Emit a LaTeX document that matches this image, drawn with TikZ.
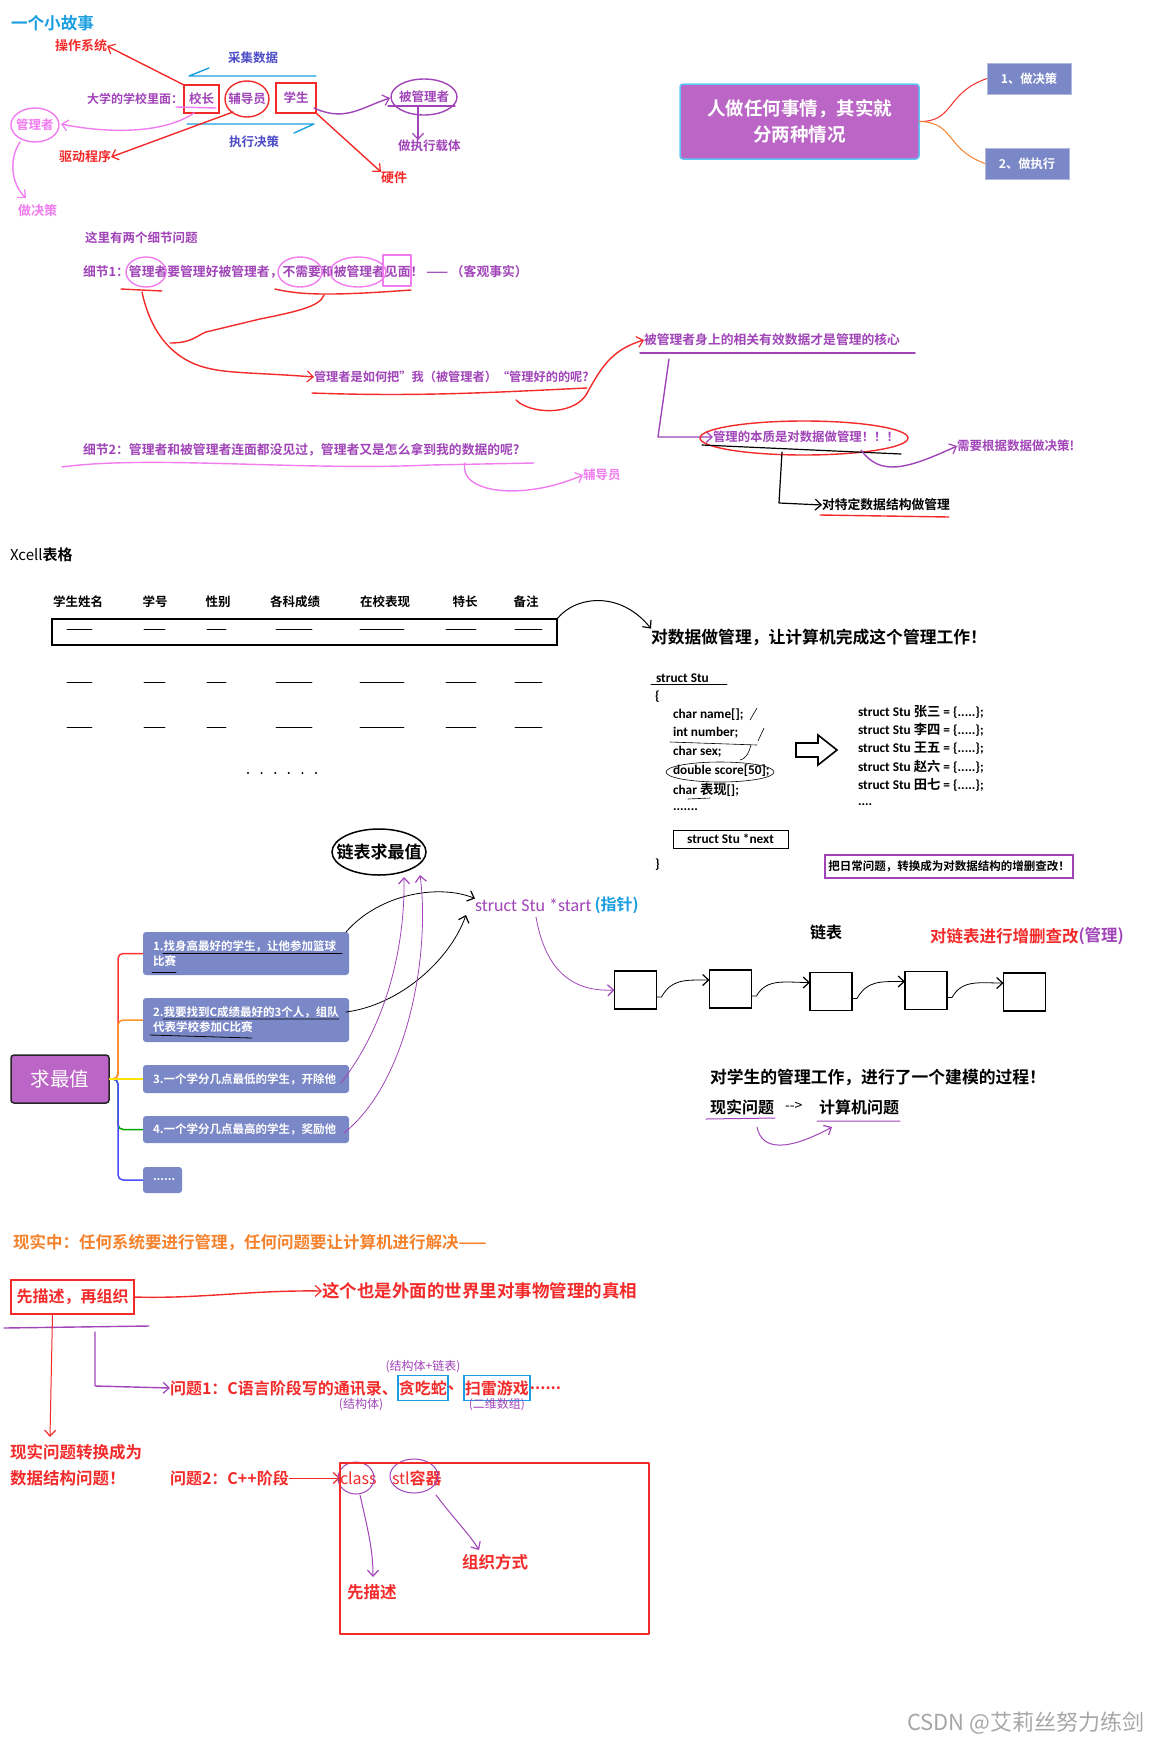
\documentclass[tikz,border=0pt]{standalone}
\usepackage{fontspec}
\setmainfont{Noto Sans CJK SC}[BoldFont={* Bold}]
\newfontfamily\codef{Carlito}
\usetikzlibrary{positioning,arrows.meta,shapes.geometric,calc}
\definecolor{tblue}{HTML}{1A9EE0}
\definecolor{sred}{HTML}{F22A2A}
\definecolor{spurple}{HTML}{A044B8}
\definecolor{spink}{HTML}{F07CF0}
\definecolor{sindigo}{HTML}{4B4BC8}
\definecolor{sorange}{HTML}{F5812B}
\definecolor{mmpurple}{HTML}{BB66C6}
\definecolor{mmblue}{HTML}{7B88C8}
\definecolor{mmcyan}{HTML}{5BC8F5}
\newcommand\fs[1]{\fontsize{#1}{#1}\selectfont}

\begin{document}
\begin{tikzpicture}[x=1pt, y=-1pt,
  every node/.style={inner sep=0pt, outer sep=0pt},
  lbl/.style   ={anchor=west, font=\bfseries\fs{12.8}},
  hand/.style  ={line width=1.4pt, line cap=round, line join=round},
  pen/.style   ={line width=0.8pt, line cap=round, line join=round},
  barb/.style  ={-{Straight Barb[length=6pt,width=11pt,line width=1.2pt]}},
  redbox/.style={draw=sred, line width=1.4pt, text=spurple, font=\bfseries\fs{12.5}},
  mmtop/.style ={fill=mmpurple, draw=mmcyan, line width=1.5pt, rounded corners=3pt,
                 minimum width=239pt, minimum height=75pt, align=center, text=white,
                 font=\bfseries\fontsize{18.5}{26}\selectfont},
  mmsub/.style ={fill=mmblue, draw=mmblue!60!white, minimum width=84pt, minimum height=31pt,
                 text=white, font=\bfseries\fs{12.3}},
  mmitem/.style={fill=mmblue, rounded corners=3pt, text=white, anchor=west, align=left,
                 text width=186pt, inner xsep=10pt, font=\bfseries\fontsize{11.5}{15}\selectfont},
  colhead/.style={font=\bfseries\fs{12.5}},
  code/.style  ={anchor=west, font=\codef\bfseries\fs{13.3}},
  lnode/.style ={draw, line width=1.5pt, minimum width=42pt, minimum height=38pt},
  lnk/.style   ={pen, barb},
  branch/.style={line width=1.5pt, rounded corners=5pt}]

\useasboundingbox (0,0) rectangle (1152,1746);

%% -- 一个小故事 ---------------------------------------------------
\node[lbl, text=tblue, font=\bfseries\fs{16.6}] (title) at (11,23) {一个小故事};
\node[lbl, text=sred, font=\bfseries\fs{13}] (czxt) at (55,46) {操作系统};
\node[lbl, text=sindigo, font=\bfseries\fs{12.5}] (cjsj) at (228,58) {采集数据};
\node[lbl, text=spurple, font=\bfseries\fs{12}] (dxxx) at (87,99) {大学的学校里面：};
\node[redbox, minimum width=35pt, minimum height=28pt] (xz) at (201.5,99) {校长};
\node[text=spurple, font=\bfseries\fs{12.5}] (fdy) at (247,99) {辅导员};
\draw[sred, hand] (fdy.center) ellipse [x radius=22pt, y radius=18pt];
\node[redbox, minimum width=40pt, minimum height=30pt] (xs) at (296,98) {学生};
\node[lbl, text=sindigo, font=\bfseries\fs{12.5}] (zxjc) at (229,142) {执行决策};
\draw[tblue, hand] (209,68) -- (189,76) -- (316,76);
\draw[tblue, hand] (187,124) -- (314,124) -- (294,133);

\node[lbl, text=sred, font=\bfseries\fs{13}] (qdcx) at (59,157) {驱动程序};
\node[lbl, text=sred, font=\bfseries\fs{13}] (yj) at (381,178) {硬件};
\draw[sred, hand, barb] (xz.north west) -- (czxt.east);
\draw[sred, hand, barb] (233,112) -- (qdcx.east);
\draw[sred, hand, barb] (xs.south east) -- (yj.north west);

\node[text=spurple, font=\bfseries\fs{12.5}] (bgl) at (424,97) {被管理者};
\draw[spurple, hand] (bgl.center) ellipse [x radius=33pt, y radius=18pt];
\draw[spurple, hand, barb] (314,108) .. controls (345,122) and (360,108) .. (390,98);
\draw[spurple, hand] (388,106) -- (455,106);
\node[lbl, text=spurple, font=\bfseries\fs{12.5}] (zxzt) at (398,146) {做执行载体};
\draw[spurple, hand, barb] (418,106) -- (zxzt.north -| 418,0);

\node[text=spink, font=\bfseries\fs{12.5}] (glz) at (35,125) {管理者};
\draw[spink, hand] (glz.center) ellipse [x radius=24pt, y radius=17pt];
\draw[spink, hand] (176,107) -- (216,108);
\draw[spink, hand, barb] (194,113) .. controls (160,136) and (100,132) .. (61,124);
\node[lbl, text=spink, font=\bfseries\fs{13}] (zjc) at (18,211) {做决策};
\draw[spink, hand, barb] (20,142) .. controls (8,160) and (12,185) .. (26,198);

%% -- 两个细节问题 -------------------------------------------------
\node[lbl, text=spurple, font=\bfseries\fs{12.5}] (lgxj) at (85,238) {这里有两个细节问题};
\node[lbl, text=spurple] (xj1) at (83,272) {细节1：管理者要管理好被管理者，不需要和被管理者见面！ —— （客观事实）};
\draw[spink, hand] (146,272) ellipse [x radius=20pt, y radius=15pt];
\draw[spink, hand] (300,272) ellipse [x radius=22pt, y radius=15pt];
\draw[spink, hand] (358,272) ellipse [x radius=28pt, y radius=15pt];
\draw[spink, hand] (383,255) rectangle (411,286);

\draw[sred, hand] (121,289) -- (162,291);
\draw[sred, hand] (275,289) .. controls (300,295) and (330,296) .. (411,290);
\draw[sred, hand] (324,295) .. controls (320,306) and (300,311) .. (260,319) -- (206,332)
                  .. controls (196,336) and (192,343) .. (170,343);
\node[lbl, text=spurple, font=\bfseries\fs{12.2}] (rhgl) at (314,377) {管理者是如何把”我（被管理者）“管理好的的呢?};
\draw[sred, hand, barb] (142,292) .. controls (150,330) and (170,356) .. (200,366)
                  .. controls (225,374) and (250,372) .. (rhgl.west);
\draw[sred, hand] (312,393) .. controls (420,397) and (500,392) .. (587,388);

\node[lbl, text=spurple] (hx) at (644,340) {被管理者身上的相关有效数据才是管理的核心};
\draw[sred, hand, barb] (516,400) .. controls (530,414) and (572,416) .. (586,395)
                  .. controls (600,370) and (610,350) .. (hx.west);
\draw[spurple, hand] (640,353) -- (915,353);
\node[lbl, text=spurple, font=\bfseries\fs{12.4}] (bz) at (713,437) {管理的本质是对数据做管理！！！};
\draw[spurple, hand, barb] (669,359) -- (658,437) -- (bz.west);
\draw[sred, hand] (804,438) ellipse [x radius=104pt, y radius=17pt];
\draw[pen, line width=1.2pt] (702,445) -- (901,454);
\node[lbl, text=black] (tdsj) at (822,505) {对特定数据结构做管理};
\draw[hand, line width=1.2pt, barb] (782,452) -- (779,503) -- (tdsj.west);
\draw[sred, hand] (820,515) -- (949,517);
\node[lbl, text=spurple, font=\bfseries\fs{12.5}] (xyjc) at (957,446) {需要根据数据做决策!};
\draw[spurple, hand, barb] (861,450) .. controls (880,476) and (905,470) .. (xyjc.west);

\node[lbl, text=spurple] (xj2) at (83,450) {细节2：管理者和被管理者连面都没见过，管理者又是怎么拿到我的数据的呢?};
\draw[spink, hand] (62,467) .. controls (150,455) and (300,471) .. (430,465) -- (534,463);
\node[lbl, text=spink, font=\bfseries\fs{12.5}] (fdy2) at (583,475) {辅导员};
\draw[spink, hand, barb] (465,463) .. controls (458,492) and (520,502) .. (fdy2.west);

%% -- 两种情况 -------------------------------------------------------
\node[mmtop] (rzrh) at (799.5,121.5) {人做任何事情，其实就\\分两种情况};
\node[mmsub] (jc) at (1029,78.5) {1、做决策};
\node[mmsub] (zx) at (1027,163.5) {2、做执行};
\draw[sred, line width=1pt] (rzrh.east) .. controls (955,122) and (945,93) .. (jc.west);
\draw[sorange, line width=1pt] (rzrh.east) .. controls (955,122) and (945,149) .. (zx.west);

%% -- Xcell表格 -------------------------------------------------------
\node[anchor=west, font=\fs{15}] (xcell) at (10,555) {Xcell\textbf{表格}};
\foreach \x/\t [count=\i] in {78/学生姓名, 155/学号, 218/性别, 295/各科成绩, 385/在校表现, 465/特长, 526/备注}
  \node[colhead] (hd\i) at (\x,602) {\t};
\node[draw, line width=1.2pt, minimum width=505pt, minimum height=26pt] (row1) at (304.5,632) {};
\foreach \y in {629,682,727}
  \foreach \a/\b in {67/92, 144/165, 207/226, 276/312, 360/404, 446/476, 515/542}
    \draw[pen] (\a,\y) -- (\b,\y);
\foreach \i in {0,...,5}
  \fill (248+\i*13.6,773) circle (1.1pt);

\node[lbl, text=black, font=\bfseries\fs{16.8}] (dsj) at (651,637) {对数据做管理，让计算机完成这个管理工作！};
\draw[pen, line width=1pt, barb] (row1.north east) .. controls (575,596) and (620,590) .. (dsj.north west);

%% -- struct Stu -----------------------------------------------------
\node[code] (stu) at (656,678) {struct Stu};
\draw[pen, line width=0.6pt] (651,684) -- (727,684);
\node[code] (lbr) at (655,697) {\{};
\node[code] (c1) at (673,715) {char name[];};
\node[code] (c2) at (673,733) {int number;};
\node[code] (c3) at (673,752) {char sex;};
\node[code] (c4) at (673,771) {double score[50];};
\node[code] (c5) at (673,790) {char {\rmfamily\bfseries 表现}[];};
\node[code] (c6) at (673,810) {.......};
\node[code, draw, line width=0.7pt, minimum width=115pt, minimum height=18pt, inner xsep=4pt] (nxt) at (673,839) {struct Stu *next};
\node[code] (rbr) at (655,865) {\}};
\draw[pen, line width=0.6pt] (670,742) -- (757,745);
\draw[pen, line width=0.6pt] (720,772) ellipse [x radius=54pt, y radius=10pt];
\draw[pen, line width=0.6pt] (688,799) -- (710,798);
\draw[pen, line width=0.6pt] (750,720) -- (757,708) (758,741) -- (764,728) (740,760) .. controls (747,758) and (749,752) .. (751,745);

\draw[line width=1.6pt, line join=miter] (796,743) -- (818,743) -- (818,735) -- (837,750)
      -- (818,765) -- (818,757) -- (796,757) -- cycle;
\foreach \y/\n [count=\i] in {712/张三, 730/李四, 748/王五, 767/赵六, 785/田七}
  \node[code] (sv\i) at (858,\y) {struct Stu {\rmfamily\bfseries \n} = \{.....\};};
\node[code] (sv6) at (858,805) {....};
\node[draw=spurple, line width=1.3pt, minimum width=248pt, minimum height=23pt,
      font=\bfseries\fs{11.5}] (zh) at (949,866.5) {把日常问题，转换成为对数据结构的增删查改！};

%% -- 求最值 -----------------------------------------------------------
\node[font=\bfseries\fs{17}] (lbzz) at (379,852) {链表求最值};
\draw[line width=1.5pt] (lbzz.center) ellipse [x radius=47pt, y radius=23pt];
\node[anchor=west, text=spurple, font=\codef\fs{18}] (start) at (475,905) {struct Stu *start};
\node[anchor=west, text=tblue, font=\bfseries\fs{16}] (zz) at ([xshift=3pt]start.east) {(指针)};

\node[fill=mmpurple, draw=black!85, line width=1.5pt, rounded corners=3pt, minimum width=98pt,
      minimum height=48pt, text=white, font=\fs{19.5}] (qzz) at (60,1079) {求最值};
\node[mmitem, minimum height=43pt] (it1) at (143,953.5) {1.找身高最好的学生，让他参加篮球\\比赛};
\node[mmitem, minimum height=44pt] (it2) at (143,1020) {2.我要找到C成绩最好的3个人，组队\\代表学校参加C比赛};
\node[mmitem, minimum height=28pt] (it3) at (143,1079) {3.一个学分几点最低的学生，开除他};
\node[mmitem, minimum height=27pt] (it4) at (143,1129.5) {4.一个学分几点最高的学生，奖励他};
\node[mmitem, text width=19pt, minimum height=26pt] (it5) at (143,1180) {......};
\draw[branch, red!80] (qzz.east) -- (118,1079) |- (it1.west);
\draw[branch, orange!85] (qzz.east) -- (118,1079) |- (it2.west);
\draw[branch, green!65!black] (qzz.east) -- (118,1079) |- (it4.west);
\draw[branch, blue!70] (qzz.east) -- (118,1079) |- (it5.west);
\draw[branch, yellow!85!orange] (qzz.east) -- (it3.west);

\draw[pen] (163,953) -- (342,953) (152,972) -- (176,972);
\draw[pen] (163,1019) -- (339,1019) (150,1035) -- (252,1038);
\draw[lnk] (346,932) .. controls (380,893) and (440,884) .. (start.north west);
\draw[lnk] (346,1012) .. controls (400,1005) and (450,960) .. (466,915);
\draw[spurple, pen, barb] (341,1083) .. controls (390,1020) and (405,940) .. (404,877);
\draw[spurple, pen, barb] (344,1133) .. controls (410,1080) and (430,950) .. (420,875);

%% -- 链表 ---------------------------------------------------------------
\node[anchor=west, font=\bfseries\fs{16}] (lb) at (810,932) {链表};
\node[anchor=west, text=sred, font=\bfseries\fs{16.5}] (zsgc) at (930,936) {对链表进行增删查改};
\node[anchor=west, text=spurple, font=\bfseries\fs{16.5}] (gl) at (zsgc.east) {(管理)};
\node[lnode] (L1) at (635.5,990) {};
\node[lnode] (L2) at (730.5,989) {};
\node[lnode] (L3) at (831,991.5) {};
\node[lnode] (L4) at (926,990.5) {};
\node[lnode] (L5) at (1024.5,992) {};
\foreach \a/\b in {L1/L2, L2/L3, L3/L4, L4/L5}
  \draw[lnk] ([yshift=-7pt]\a.east) -- ++(5,0) .. controls +(10,-18) and +(-25,0) .. ([yshift=9pt]\b.west);
\draw[spurple, pen, barb] (536,917) .. controls (545,968) and (570,992) .. (L1.west);

\node[anchor=west, font=\bfseries\fs{16.8}] (jm) at (710,1077) {对学生的管理工作，进行了一个建模的过程！};
\node[anchor=west, font=\bfseries\fs{16}] (xswt) at (710,1107) {现实问题};
\node[anchor=west, font=\fs{14}] (jt) at (785,1106) {-{}-{}>};
\node[anchor=west, font=\bfseries\fs{16}] (jsj) at (819,1107) {计算机问题};
\draw[spurple, pen, line width=1pt] (706,1119) -- (775,1118) (817,1121) -- (900,1121);
\draw[spurple, pen, line width=1pt, barb] (757,1127) .. controls (762,1152) and (790,1150) .. (832,1127);

%% -- 现实中 ---------------------------------------------------------------
\node[lbl, text=sorange, font=\bfseries\fs{16.5}] (xsz) at (13,1243) {现实中：任何系统要进行管理，任何问题要让计算机进行解决——};
\node[draw=sred, line width=1.4pt, minimum width=123pt, minimum height=34pt, text=sred,
      font=\bfseries\fs{16}] (xms) at (72.5,1297) {先描述，再组织};
\node[lbl, text=sred, font=\bfseries\fs{17.5}] (zxy) at (322,1291) {这个也是外面的世界里对事物管理的真相};
\draw[sred, hand, barb] (xms.east) .. controls (200,1299) and (250,1290) .. (zxy.west);
\draw[spurple, hand] (4,1328) -- (149,1326);
\node[lbl, text=sred, font=\bfseries\fs{16.5}] (zh1) at (10,1452) {现实问题转换成为};
\node[lbl, text=sred, font=\bfseries\fs{16.5}] (zh2) at (10,1478) {数据结构问题！};
\draw[sred, pen, line width=1pt, barb] ([xshift=-20pt]xms.south) -- (50,1437);

\node[lbl, text=sred, font=\bfseries\fs{16}] (wt1) at (170,1388) {问题1：C语言阶段写的通讯录、};
\draw[spurple, hand, barb] (95,1332) -- (95,1386) -- (wt1.west);
\node[draw=tblue, line width=1.2pt, text=sred, font=\bfseries\fs{16}, inner xsep=1pt, minimum height=25pt,
      right=0pt of wt1] (tcs) {贪吃蛇};
\node[text=sred, font=\bfseries\fs{16}, right=0pt of tcs] (dn) {、};
\node[draw=tblue, line width=1.2pt, text=sred, font=\bfseries\fs{16}, inner xsep=1pt, minimum height=25pt,
      right=0pt of dn] (slyx) {扫雷游戏};
\node[text=sred, font=\bfseries\fs{16}, right=0pt of slyx] (sl) {......};
\node[text=spurple, font=\fs{12}] (jgl) at (tcs.north |- 0,1367) {(结构体+链表)};
\node[text=spurple, font=\fs{12}] (jgt) at (361,1405) {(结构体)};
\node[text=spurple, font=\fs{12}] (ewsz) at (slyx.south |- 0,1405) {(二维数组)};

\node[lbl, text=sred, font=\bfseries\fs{16}] (wt2) at (170,1478) {问题2：C++阶段};
\node[anchor=west, text=sred, font=\fs{16}] (cls) at (340,1478) {class};
\node[anchor=west, text=sred, font=\fs{16}] (stl) at (392,1478) {stl\textbf{容器}};
\draw[sred, line width=1pt, barb] (wt2.east) -- (cls.west);
\draw[spurple, hand, line width=1pt] (356,1478) ellipse [x radius=18pt, y radius=16pt];
\draw[spurple, hand, line width=1pt] (414,1476) ellipse [x radius=24pt, y radius=17pt];
\draw[sred, hand] (340,1463) rectangle (649,1634);
\node[lbl, text=sred, font=\bfseries\fs{16.5}] (zzfs) at (462,1562) {组织方式};
\node[lbl, text=sred, font=\bfseries\fs{16.5}] (xms2) at (347,1592) {先描述};
\draw[spurple, pen, line width=1pt, barb] (360,1495) .. controls (368,1530) and (373,1550) .. (373,1577);
\draw[spurple, pen, line width=1pt, barb] (436,1495) .. controls (455,1520) and (470,1535) .. (479,1550);

%% -- watermark ---------------------------------------------------------
\node[anchor=west, text=black!35, font=\fs{22}] (wm) at (907,1723) {CSDN @艾莉丝努力练剑};
\end{tikzpicture}
\end{document}
